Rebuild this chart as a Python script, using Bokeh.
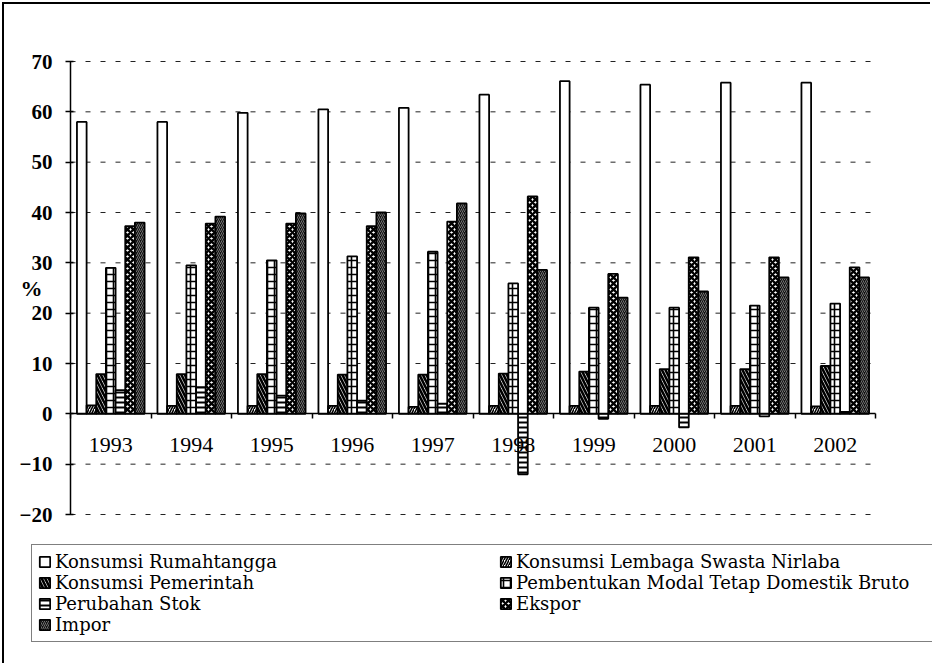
from bokeh.plotting import figure
from bokeh.models import (ColumnDataSource, Range1d, FixedTicker, LinearAxis,
                          Legend, LegendItem)
from bokeh.transform import dodge
from bokeh.embed import file_html
from bokeh.resources import INLINE

years = ["1993", "1994", "1995", "1996", "1997", "1998", "1999", "2000", "2001", "2002"]

konsumsi_rt = [58.0, 58.0, 59.8, 60.5, 60.8, 63.4, 66.1, 65.4, 65.8, 65.8]
lembaga = [1.7, 1.6, 1.6, 1.6, 1.4, 1.6, 1.6, 1.6, 1.6, 1.5]
pemerintah = [7.9, 7.9, 7.9, 7.8, 7.8, 8.0, 8.4, 8.9, 8.9, 9.5]
pmtdb = [29.0, 29.5, 30.5, 31.3, 32.2, 25.9, 21.1, 21.1, 21.5, 21.9]
stok = [4.7, 5.3, 3.6, 2.6, 2.0, -12.0, -1.0, -2.7, -0.5, 0.4]
ekspor = [37.3, 37.8, 37.8, 37.3, 38.2, 43.2, 27.8, 31.1, 31.1, 29.1]
impor = [38.0, 39.2, 39.8, 40.0, 41.8, 28.6, 23.1, 24.3, 27.1, 27.1]

series_names = ["Konsumsi Rumahtangga", "Konsumsi Lembaga Swasta Nirlaba",
                "Konsumsi Pemerintah", "Pembentukan Modal Tetap Domestik Bruto",
                "Perubahan Stok", "Ekspor", "Impor"]
series_values = [konsumsi_rt, lembaga, pemerintah, pmtdb, stok, ekspor, impor]

y_ticks = [-20, -10, 0, 10, 20, 30, 40, 50, 60, 70]

styles = [
    dict(fill_color="white", hatch_pattern=None),
    dict(fill_color="white", hatch_pattern="/", hatch_scale=5, hatch_weight=1.6),
    dict(fill_color="white", hatch_pattern="\\", hatch_scale=7, hatch_weight=2.6),
    dict(fill_color="white", hatch_pattern="+", hatch_scale=7, hatch_weight=1.6),
    dict(fill_color="white", hatch_pattern="-", hatch_scale=5, hatch_weight=2.0),
    dict(fill_color="white", hatch_pattern="x", hatch_scale=6, hatch_weight=2.3),
    dict(fill_color="#111111", hatch_pattern="/", hatch_scale=4, hatch_weight=0.8,
         hatch_color="#8a8a8a"),
]

n = len(years)
centers = [i + 0.5 for i in range(n)]
boundaries = list(range(n + 1))
data = dict(x=centers)
for k, vals in enumerate(series_values):
    data["s%d" % k] = vals
source = ColumnDataSource(data)

# the frame fills the whole canvas; axes are pinned at x=0 / y=0 inside it
p = figure(width=928, height=661,
           x_range=Range1d(-0.8199, 10.708), y_range=Range1d(-50.0, 81.325),
           output_backend="svg", toolbar_location=None,
           x_axis_location=None, y_axis_location=None,
           min_border_left=0, min_border_right=0, min_border_top=0,
           min_border_bottom=0)
p.outline_line_color = None
p.background_fill_color = "white"
p.border_fill_color = "white"
p.xgrid.visible = False
p.ygrid.visible = False
p.styles = {"border-left": "2px solid black", "border-top": "2px solid black",
            "margin-left": "2px", "margin-top": "2px"}

# dashed horizontal grid lines over the category span
grid_vals = [t for t in y_ticks if t != 0]
gsrc = ColumnDataSource(dict(y=grid_vals, x0=[0] * len(grid_vals),
                             x1=[n] * len(grid_vals)))
p.segment(x0="x0", x1="x1", y0="y", y1="y", source=gsrc, line_color="#222222",
          line_width=1, line_dash="5 10")

bw = 0.12
renderers = []
for k, st in enumerate(styles):
    kw = dict(st)
    kw.setdefault("hatch_color", "black")
    r = p.vbar(x=dodge("x", (k - 3) * bw, range=p.x_range), top="s%d" % k, bottom=0,
               width=bw, source=source, line_color="black", line_width=1.8, **kw)
    renderers.append(r)

# y axis pinned at x = 0
yax = LinearAxis(ticker=FixedTicker(ticks=y_ticks), fixed_location=0,
                 bounds=(y_ticks[0], y_ticks[-1]),
                 minor_tick_line_color=None, major_tick_out=5, major_tick_in=3,
                 axis_line_width=1.5, axis_line_color="black",
                 major_tick_line_color="black", major_tick_line_width=1.5,
                 major_label_standoff=13, major_label_text_font="Liberation Serif",
                 major_label_text_font_style="bold",
                 major_label_text_font_size="21px", major_label_text_color="black",
                 axis_label="%", axis_label_orientation="horizontal",
                 axis_label_text_font="Liberation Serif",
                 axis_label_text_font_style="bold", axis_label_text_font_size="22px",
                 axis_label_text_color="black", axis_label_standoff=-26)
p.add_layout(yax, "left")

# x axis pinned at y = 0: labels at group centres, ticks at group boundaries
label_over = {c: y for c, y in zip(centers, years)}
xax = LinearAxis(ticker=FixedTicker(ticks=centers, minor_ticks=boundaries),
                 fixed_location=0, bounds=(0, n),
                 major_label_overrides=label_over,
                 major_tick_out=0, major_tick_in=0, major_label_standoff=19,
                 major_tick_line_color=None,
                 minor_tick_out=5, minor_tick_in=0, minor_tick_line_color="black",
                 minor_tick_line_width=1.5,
                 axis_line_color="black", axis_line_width=1.5,
                 major_label_text_font="Liberation Serif",
                 major_label_text_font_size="22px",
                 major_label_text_color="black")
p.add_layout(xax, "below")

items = [LegendItem(label=nm, renderers=[r]) for nm, r in zip(series_names, renderers)]
legend = Legend(items=items, location=(27, 23), orientation="horizontal", ncols=2,
                glyph_width=13, glyph_height=13, label_standoff=4, label_width=444,
                label_height=19, spacing=0, padding=6, margin=0,
                label_text_font="DejaVu Serif", label_text_font_size="18px",
                label_text_color="black", border_line_color="black",
                border_line_width=1, background_fill_color="white",
                background_fill_alpha=1.0)
p.add_layout(legend, "center")

open("out.html", "w").write(file_html(p, INLINE))
